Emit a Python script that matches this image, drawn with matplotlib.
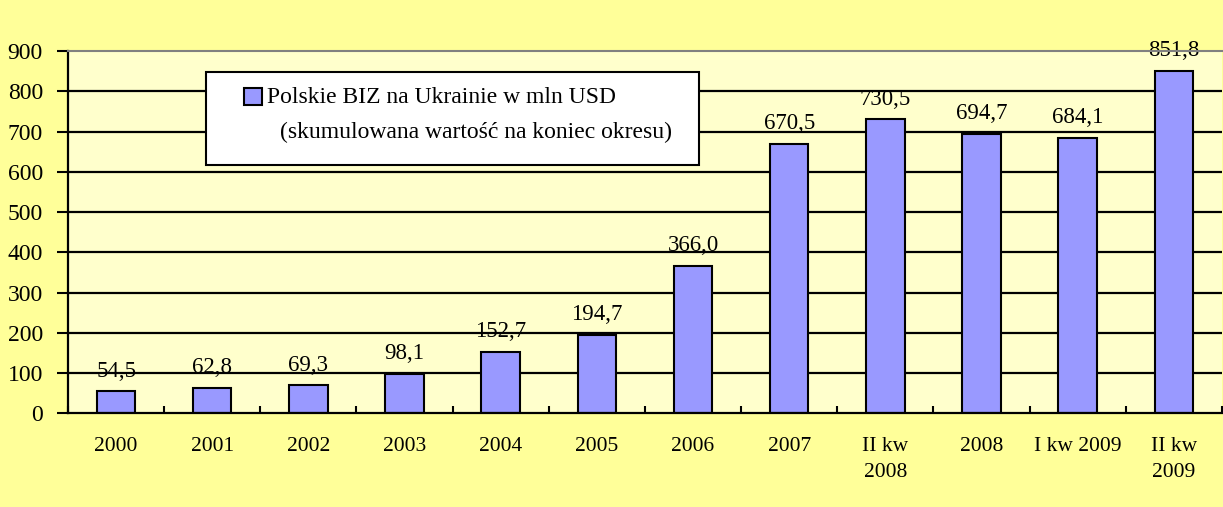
import matplotlib.pyplot as plt
from matplotlib.patches import Rectangle
import numpy as np

categories = ["2000", "2001", "2002", "2003", "2004", "2005", "2006", "2007",
              "II kw\n2008", "2008", "I kw 2009", "II kw\n2009"]
values = [54.5, 62.8, 69.3, 98.1, 152.7, 194.7, 366.0, 670.5, 730.5, 694.7, 684.1, 851.8]
yticks = [0, 100, 200, 300, 400, 500, 600, 700, 800, 900]
legend_line1 = "Polskie BIZ na Ukrainie w mln USD"
legend_line2 = "(skumulowana wartość na koniec okresu)"

plt.rcParams['font.family'] = ['Liberation Serif', 'DejaVu Serif']

fig = plt.figure(figsize=(12.23, 5.07), dpi=100, facecolor="#FFFF99")
ax = fig.add_axes([0.0556, 0.185, 0.9435, 0.714])
ax.set_facecolor("#FFFFCC")

x = np.arange(len(categories))
ax.bar(x, values, width=0.4, color="#9999FF", edgecolor="black", linewidth=1.5, zorder=3)

for xi, v in zip(x, values):
    ax.text(xi, v + 24, f"{v:.1f}".replace(".", ","), ha="center", va="bottom",
            fontsize=16.5, zorder=4)

ax.set_xlim(-0.5, len(categories) - 0.5)
ax.set_ylim(0, 900)
ax.set_yticks(yticks)
ax.set_yticklabels([str(t) for t in yticks], fontsize=17)
for t in yticks[1:-1]:
    ax.axhline(t, color="black", linewidth=1.6, zorder=1)

ax.set_xticks(x)
ax.set_xticklabels(categories, fontsize=15.5, linespacing=1.5, va="top")
ax.set_xticks(np.arange(len(categories) + 1) - 0.5, minor=True)
ax.tick_params(axis="x", which="major", length=0, pad=17)
ax.tick_params(axis="x", which="minor", direction="in", length=5, width=1.5)
ax.tick_params(axis="y", direction="out", length=8, width=1.5, pad=10)

ax.spines["left"].set_linewidth(1.6)
ax.spines["bottom"].set_linewidth(1.6)
ax.spines["top"].set_color("#808080")
ax.spines["top"].set_linewidth(1.5)
ax.spines["right"].set_visible(False)
for s in ax.spines.values():
    s.set_zorder(5)

# legend box drawn by hand (Excel-style wrapped label)
box = Rectangle((0.1196, 0.686), 0.4274, 0.257, transform=ax.transAxes,
                facecolor="white", edgecolor="black", linewidth=1.5, zorder=6)
ax.add_patch(box)
ax.add_patch(Rectangle((0.1525, 0.851), 0.0155, 0.047, transform=ax.transAxes,
                       facecolor="#9999FF", edgecolor="black", linewidth=1.5, zorder=7))
ax.text(0.1724, 0.872, legend_line1, transform=ax.transAxes, fontsize=17,
        ha="left", va="center", zorder=7)
ax.text(0.354, 0.776, legend_line2, transform=ax.transAxes, fontsize=17,
        ha="center", va="center", zorder=7)

fig.savefig("out.png", dpi=100, facecolor=fig.get_facecolor())
